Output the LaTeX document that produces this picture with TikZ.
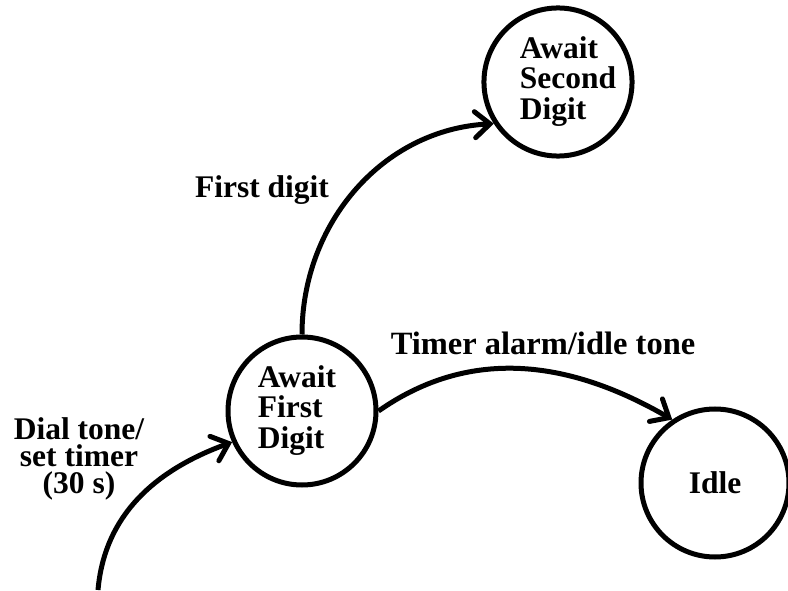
\documentclass[tikz,border=0pt]{standalone}
\usepackage{fontspec}
\setmainfont{Liberation Serif}
\usetikzlibrary{arrows.meta}
\begin{document}
\begin{tikzpicture}[x=1pt,y=1pt,
  state/.style={draw, circle, line width=5pt, minimum size=148pt, inner sep=0pt,
    font=\fontsize{31.5}{29}\selectfont\bfseries},
  lbl/.style={font=\fontsize{31.5}{27}\selectfont\bfseries, align=center, inner sep=0pt},
  arr/.style={-{Straight Barb[length=15pt,width=26pt,line cap=round]}, line width=5pt}]
\useasboundingbox (0,0) rectangle (788,590);
\node[state] (first) at (302,179) {\begin{tabular}{@{}l@{\hspace{10pt}}}Await\\First\\Digit\end{tabular}};
\node[state] (second) at (558,508) {\begin{tabular}{@{\hspace{20pt}}l@{}}Await\\Second\\Digit\end{tabular}};
\node[state] (idle) at (715,107) {Idle};
\coordinate (start) at (98,0);
\draw[arr] (start) to[out=85,in=200] (first.204);
\draw[arr] (first.90) to[out=90,in=183] (second.213);
\draw[arr] (first.0) to[out=35,in=150] (idle.124);
\node[lbl, anchor=base] (l1) at (262,392) {First digit};
\node[lbl, anchor=base, font=\fontsize{32.5}{27}\selectfont\bfseries] (l2) at (543,235) {Timer alarm/idle tone};
\node[lbl] (l3) at (79,131) {Dial tone/\\set timer\\(30 s)};
\end{tikzpicture}
\end{document}
